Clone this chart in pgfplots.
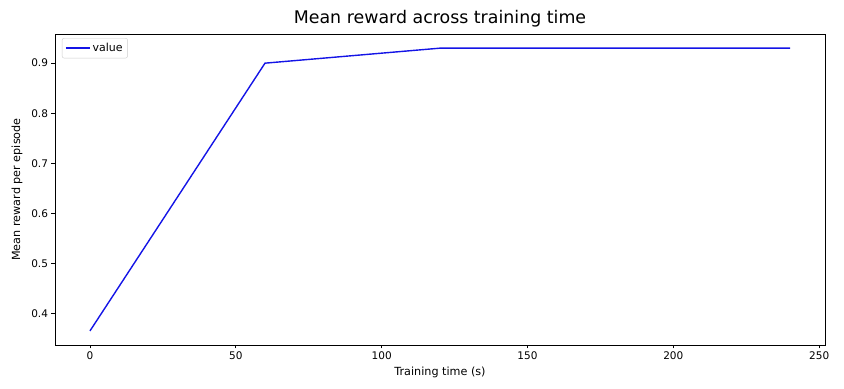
\documentclass[border=0pt]{standalone}
\usepackage{pgfplots}
\pgfplotsset{compat=1.18}
\usepackage{fontspec}
\setmainfont{DejaVu Sans}
\begin{document}
\begin{tikzpicture}
\begin{axis}[
  scale only axis,
  width=770pt, height=311pt,
  xmin=-12, xmax=252,
  ymin=0.3368, ymax=0.9583,
  xtick={0,50,100,150,200,250},
  ytick={0.4,0.5,0.6,0.7,0.8,0.9},
  yticklabel style={/pgf/number format/fixed,/pgf/number format/precision=1},
  /pgf/number format/assume math mode=true,
  tick align=outside,
  tick pos=left,
  major tick length=3.5pt,
  tick style={black, line width=0.8pt},
  axis line style={line width=0.8pt},
  ticklabel style={font=\fontsize{10.5}{12}\selectfont},
  title={Mean reward across training time},
  title style={font=\fontsize{17.4}{20}\selectfont, yshift=-3pt},
  xlabel={Training time (s)},
  ylabel={Mean reward per episode},
  label style={font=\fontsize{11.2}{13}\selectfont},
  xlabel style={yshift=0pt},
  ylabel style={yshift=2pt},
  legend style={at={(0.009,0.987)}, anchor=north west, font=\fontsize{11}{13}\selectfont, draw=black!20, rounded corners=2pt, inner xsep=3pt, inner ysep=3pt},
  legend image code/.code={\draw[#1] (0pt,0pt) -- (24pt,0pt);},
  legend cell align=left,
]
\addplot[color={rgb,255:red,20;green,20;blue,230}, line width=1.4pt, mark=none] coordinates {
  (0,0.365) (60,0.900) (120,0.930) (180,0.930) (240,0.930)
};
\addlegendentry{value}
\end{axis}
\pgfresetboundingbox
\path ([shift={(-55pt,-44pt)}]current axis.south west) rectangle ([shift={(19pt,34pt)}]current axis.north east);
\end{tikzpicture}
\end{document}
